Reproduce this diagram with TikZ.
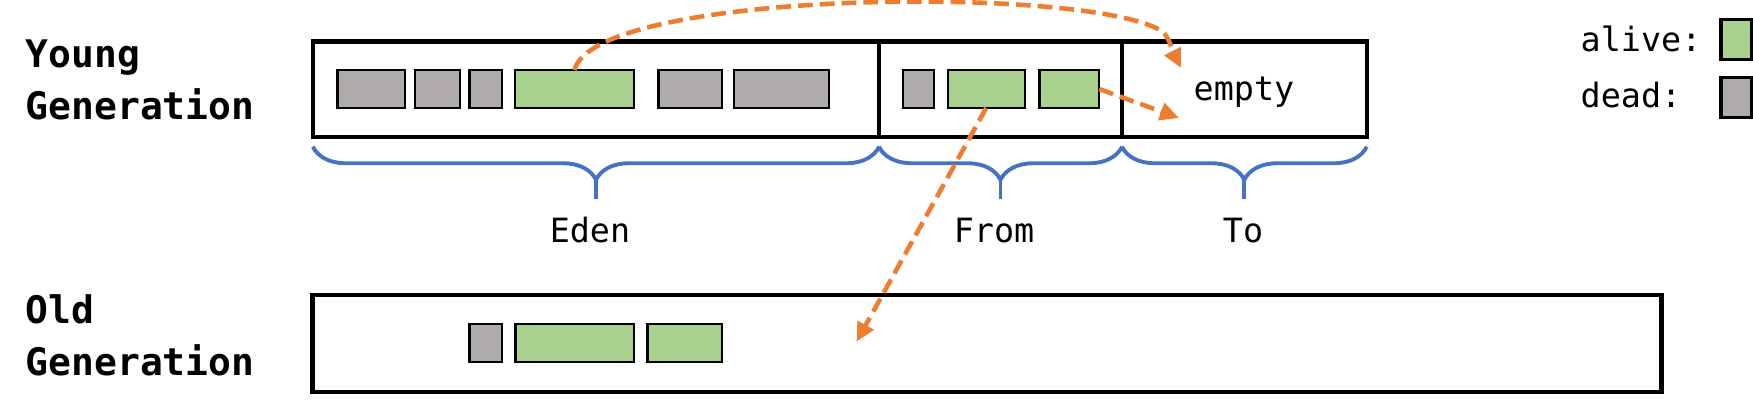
\documentclass[tikz,border=0pt]{standalone}
\usepackage{fontspec}
\setmonofont{DejaVu Sans Mono}
\usepackage{tikz}
\usetikzlibrary{arrows.meta,decorations.pathreplacing,positioning}
\definecolor{alivegreen}{HTML}{A9D18E}
\definecolor{deadgray}{HTML}{AFABAB}
\definecolor{promoorange}{HTML}{ED7D31}
\definecolor{braceblue}{HTML}{4472C4}
\tikzset{heapspace/.style={draw,rectangle,line width=1.25pt,minimum height=0.953cm,inner sep=0,outer sep=0},
    memcell/.style={draw,rectangle,line width=0.65pt,minimum height=0.38cm,inner sep=0,outer sep=0},
    alive/.style={memcell,fill=alivegreen},
    dead/.style={memcell,fill=deadgray},
    legendkey/.style={line width=0.9pt,minimum width=0.31cm,minimum height=0.4cm},
    genlabel/.style={font=\ttfamily\bfseries\fontsize{10.8}{14.8}\selectfont,align=left,inner sep=0,anchor=north west},
    partlabel/.style={font=\ttfamily\fontsize{9.5}{11}\selectfont,inner sep=0,anchor=base},
    accolade/.style={decorate,decoration={brace,amplitude=0.33cm},draw=braceblue,line width=1.1pt},
    accoladestem/.style={draw=braceblue,line width=1.1pt},
    promote/.style={draw=promoorange,line width=1.3pt,dash pattern=on 4.2pt off 2pt,
                    -{Triangle[length=5.4pt,width=5pt]}}}

\begin{document}
\begin{tikzpicture}[x=0.01cm,y=-0.01cm]
\useasboundingbox (0,0) rectangle (1753,408);

\node (eden) [heapspace,minimum width=5.66cm] at (596,89.35) {};
\node (fromsp) [heapspace,minimum width=2.43cm] at (1000.5,89.35) {};
\node (tosp) [heapspace,minimum width=2.447cm] at (1244.35,89.35) {};
\node (old) [heapspace,minimum width=13.48cm,minimum height=0.967cm] at (987,343.35) {};

\node (genyoung) [genlabel] at (25,39.3) {Young\\Generation};
\node (genold) [genlabel] at (25,294) {Old\\Generation};

\foreach \cell/\kind/\xa/\xb/\y in {e1/dead/337.5/404.7/89, e2/dead/415/460/89, e3/dead/469.6/501.7/89,
                                    e4/alive/515/634/89, e5/dead/658.6/722/89, e6/dead/734/829/89,
                                    f1/dead/902.7/933.8/89, f2/alive/947.7/1024.7/89, f3/alive/1039.5/1099.2/89,
                                    o1/dead/469.6/501.7/343, o2/alive/515.5/634/343, o3/alive/647.5/722/343}
{
    \node (\cell) [\kind,minimum width={(\xb-\xa)*0.01cm}] at ({(\xa+\xb)/2},\y) {};
}

\foreach \part/\name/\lx in {eden/Eden/590, fromsp/From/994, tosp/To/1243}
{
    \draw [accolade] ([yshift=-2.76pt]\part.south east) -- node (tip\part) [inner sep=0,midway,yshift=-0.33cm] {} ([yshift=-2.76pt]\part.south west);
    \draw [accoladestem] (tip\part.center) -- ++(0,19.6);
    \node (lbl\part) [partlabel] at (\lx,242.5) {\name};
}

\node (emptylbl) [partlabel] at (1244,100) {empty};

% legend
\node (alivetxt) [partlabel,anchor=base west] at (1580,51.7) {alive:};
\node (alivekey) [alive,legendkey] at (1736.5,39.3) {};
\node (deadtxt) [partlabel,anchor=base west] at (1580,107) {dead:};
\node (deadkey) [dead,legendkey] at (1736.5,97.3) {};

\coordinate (toin) at (1181,68);
\coordinate (tohit) at (1179,118);
\coordinate (oldhit) at (856.5,341.7);

\draw [promote] (e4.north) .. controls (595,-10) and (1080,-15) .. (1160,30) .. controls (1169,35) and (1172,50) .. (toin);
\draw [promote] (f3.east) -- (tohit);
\draw [promote] (f2.south) -- (oldhit);

\end{tikzpicture}
\end{document}
